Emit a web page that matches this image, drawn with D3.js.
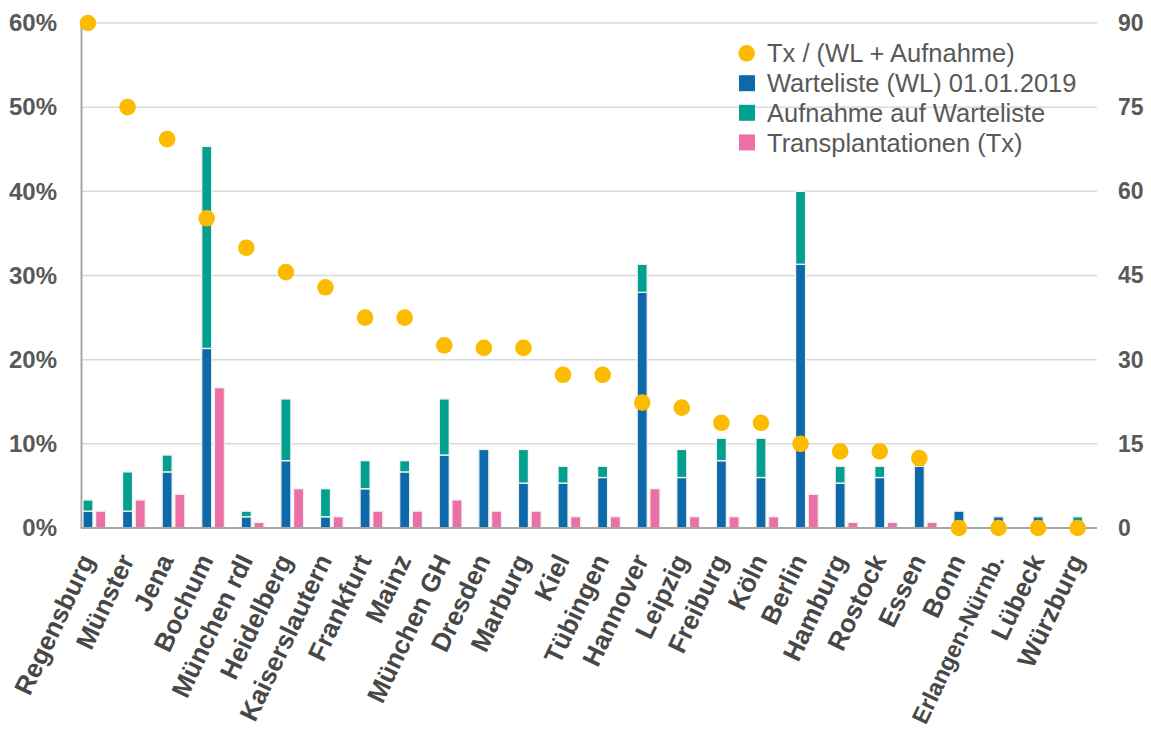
<!DOCTYPE html>
<html>
<head>
<meta charset="utf-8">
<script src="https://cdn.jsdelivr.net/npm/d3@7"></script>
<style>
  html, body { margin: 0; padding: 0; background: #ffffff; }
  svg { display: block; font-family: Arial, "Liberation Sans", sans-serif; }
</style>
</head>
<body>
<svg id="chart" width="1151" height="731"></svg>
<script>
const categories = ["Regensburg","Münster","Jena","Bochum","München rdI","Heidelberg","Kaiserslautern","Frankfurt","Mainz","München GH","Dresden","Marburg","Kiel","Tübingen","Hannover","Leipzig","Freiburg","Köln","Berlin","Hamburg","Rostock","Essen","Bonn","Erlangen-Nürnb.","Lübeck","Würzburg"];
const warteliste = [3,3,10,32,2,12,2,7,10,13,14,8,8,9,42,9,12,9,47,8,9,11,3,2,2,1];
const aufnahme   = [2,7,3,36,1,11,5,5,2,10,0,6,3,2,5,5,4,7,13,3,2,1,0,0,0,1];
const transplant = [3,5,6,25,1,7,2,3,3,5,3,3,2,2,7,2,2,2,6,1,1,1,0,0,0,0];
const ratio      = [0.60,0.50,0.462,0.368,0.333,0.304,0.286,0.25,0.25,0.217,0.214,0.214,0.182,0.182,0.149,0.143,0.125,0.125,0.10,0.091,0.091,0.083,0,0,0,0];
const leftTicks  = [0,0.1,0.2,0.3,0.4,0.5,0.6];
const rightTicks = [0,15,30,45,60,75,90];
const legendLabels = ["Tx / (WL + Aufnahme)","Warteliste (WL) 01.01.2019","Aufnahme auf Warteliste","Transplantationen (Tx)"];

const colors = { wl: "#0e69ab", auf: "#02a08f", tx: "#ec6fa6", ratio: "#fdbb00" };

const svg = d3.select("#chart");
const plotL = 81, plotR = 1097, plotT = 23, plotB = 528;

const x = d3.scaleBand().domain(categories).range([74.5, 74.5 + 26 * 39.59]).padding(0);
const yL = d3.scaleLinear().domain([0, 0.6]).range([plotB, plotT]);
const yR = d3.scaleLinear().domain([0, 90]).range([plotB, plotT]);

const barW = 10;
const off = 6.35;
const cx = c => x(c) + x.bandwidth() / 2;

// gridlines
svg.append("g").selectAll("line").data(leftTicks.filter(d => d > 0)).join("line")
  .attr("x1", plotL).attr("x2", plotR)
  .attr("y1", d => yL(d)).attr("y2", d => yL(d))
  .attr("stroke", "#d9d9d9").attr("stroke-width", 1.5);

// left axis
const leftAxis = svg.append("g").attr("transform", `translate(${plotL},0)`)
  .call(d3.axisLeft(yL).tickValues(leftTicks).tickFormat(d3.format(".0%")).tickSize(0).tickPadding(24));
leftAxis.select(".domain").attr("stroke", "#a6a6a6").attr("stroke-width", 2);
leftAxis.selectAll("text").attr("font-size", 24).attr("font-weight", "bold").attr("fill", "#595959")
  .attr("font-family", "Arial, 'Liberation Sans', sans-serif");

// right axis (labels only)
const rightAxis = svg.append("g").attr("transform", `translate(${plotR},0)`)
  .call(d3.axisRight(yR).tickValues(rightTicks).tickSize(0).tickPadding(21));
rightAxis.select(".domain").remove();
rightAxis.selectAll("text").attr("font-size", 23).attr("font-weight", "bold").attr("fill", "#595959")
  .attr("font-family", "Arial, 'Liberation Sans', sans-serif");

// bars
const gBars = svg.append("g");
gBars.selectAll("rect.wl").data(categories).join("rect").attr("class", "wl")
  .attr("x", (c) => cx(c) - off - barW / 2).attr("width", barW)
  .attr("y", (c, i) => yR(warteliste[i])).attr("height", (c, i) => plotB - yR(warteliste[i]))
  .attr("fill", colors.wl).attr("stroke", "#eeeeee").attr("stroke-width", 1.3)
  .attr("display", (c, i) => warteliste[i] > 0 ? null : "none");
gBars.selectAll("rect.auf").data(categories).join("rect").attr("class", "auf")
  .attr("x", (c) => cx(c) - off - barW / 2).attr("width", barW)
  .attr("y", (c, i) => yR(warteliste[i] + aufnahme[i])).attr("height", (c, i) => yR(warteliste[i]) - yR(warteliste[i] + aufnahme[i]))
  .attr("fill", colors.auf).attr("stroke", "#f4f4f4").attr("stroke-width", 1.3)
  .attr("display", (c, i) => aufnahme[i] > 0 ? null : "none");
gBars.selectAll("rect.tx").data(categories).join("rect").attr("class", "tx")
  .attr("x", (c) => cx(c) + off - barW / 2).attr("width", barW)
  .attr("y", (c, i) => yR(transplant[i])).attr("height", (c, i) => plotB - yR(transplant[i]))
  .attr("fill", colors.tx).attr("stroke", "#eeeeee").attr("stroke-width", 1.3)
  .attr("display", (c, i) => transplant[i] > 0 ? null : "none");

// bottom axis line
svg.append("line").attr("x1", plotL).attr("x2", plotR).attr("y1", plotB).attr("y2", plotB)
  .attr("stroke", "#a6a6a6").attr("stroke-width", 2);

// dots
svg.append("g").selectAll("circle").data(categories).join("circle")
  .attr("cx", c => cx(c) - off).attr("cy", (c, i) => yL(ratio[i]))
  .attr("r", 8.3).attr("fill", colors.ratio);

// category labels
const catLabels = svg.append("g").selectAll("text").data(categories).join("text")
  .attr("transform", c => `translate(${cx(c) - off - 1},${556}) rotate(-64.5)`)
  .attr("text-anchor", "end").attr("dy", "0.35em")
  .attr("font-size", 26).attr("font-weight", "bold").attr("fill", "#474747")
  .text(c => c);
// shrink any label that would run past the bottom edge
catLabels.each(function() {
  let fs = 26;
  while (this.getBoundingClientRect().bottom > 729 && fs > 14) {
    fs -= 0.5;
    d3.select(this).attr("font-size", fs);
  }
});

// legend
const lg = svg.append("g");
const rowsY = [53.3, 83.2, 112.8, 142.4];
lg.append("circle").attr("cx", 746.7).attr("cy", rowsY[0]).attr("r", 8.3).attr("fill", colors.ratio);
[colors.wl, colors.auf, colors.tx].forEach((col, k) => {
  lg.append("rect").attr("x", 739).attr("y", rowsY[k + 1] - 8).attr("width", 16).attr("height", 16).attr("fill", col);
});
lg.selectAll("text").data(legendLabels).join("text")
  .attr("x", 767).attr("y", (d, i) => rowsY[i]).attr("dy", "0.36em")
  .attr("font-size", 25.5).attr("fill", "#595959").text(d => d);
</script>
</body>
</html>
